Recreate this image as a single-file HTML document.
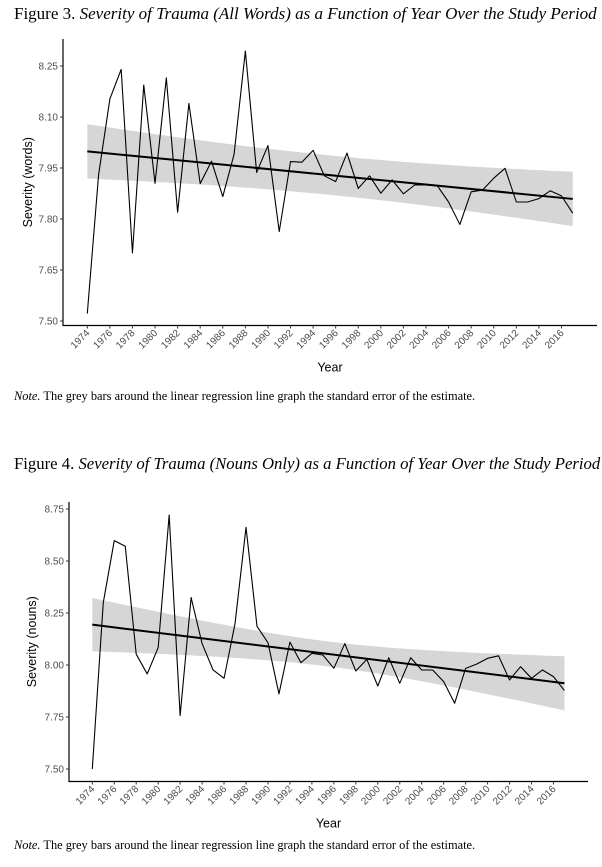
<!DOCTYPE html>
<html><head><meta charset="utf-8"><style>
body{margin:0;background:#fff;width:602px;height:867px;overflow:hidden;position:relative;font-family:"Liberation Serif",serif;}
.title{position:absolute;left:14px;font-size:17px;color:#000;white-space:nowrap;}
.note{position:absolute;left:14px;font-size:12.4px;color:#000;white-space:nowrap;}
svg{position:absolute;left:0;top:0;}
</style></head><body>
<div class="title" style="top:4px">Figure 3. <i>Severity of Trauma (All Words) as a Function of Year Over the Study Period</i></div>
<div class="note" style="top:389px"><i>Note.</i> The grey bars around the linear regression line graph the standard error of the estimate.</div>
<div class="title" style="top:454px;font-size:16.7px">Figure 4. <i>Severity of Trauma (Nouns Only) as a Function of Year Over the Study Period</i></div>
<div class="note" style="top:838px"><i>Note.</i> The grey bars around the linear regression line graph the standard error of the estimate.</div>
<svg id="chart" width="602" height="867"></svg>
<script>
const years = [];
for (let y = 1974; y <= 2017; y++) years.push(y);
const xTickYears = [1974,1976,1978,1980,1982,1984,1986,1988,1990,1992,1994,1996,1998,2000,2002,2004,2006,2008,2010,2012,2014,2016];
const wordsValues = [7.522,7.93,8.153,8.24,7.70,8.194,7.905,8.215,7.82,8.14,7.904,7.97,7.866,7.99,8.294,7.937,8.016,7.763,7.969,7.967,8.002,7.927,7.91,7.994,7.89,7.927,7.876,7.915,7.874,7.90,7.90,7.898,7.85,7.784,7.88,7.885,7.92,7.949,7.85,7.85,7.86,7.883,7.868,7.817];
const wordsTicks = [7.50,7.65,7.80,7.95,8.10,8.25];
const wordsFit = [7.999,7.859];
const wordsBand = [0.08,0.058,0.08];
const nounsValues = [7.50,8.30,8.598,8.571,8.052,7.957,8.084,8.721,7.757,8.324,8.103,7.976,7.936,8.199,8.662,8.186,8.107,7.861,8.11,8.011,8.056,8.048,7.984,8.103,7.971,8.027,7.899,8.035,7.912,8.035,7.976,7.976,7.92,7.816,7.984,8.004,8.032,8.044,7.928,7.992,7.936,7.976,7.944,7.877];
const nounsTicks = [7.50,7.75,8.00,8.25,8.50,8.75];
const nounsFit = [8.194,7.912];
const nounsBand = [0.128,0.06,0.13];

const NS = "http://www.w3.org/2000/svg";
const svg = document.getElementById('chart');
function mk(tag, attrs, parent){const e=document.createElementNS(NS,tag);for(const k in attrs)e.setAttribute(k,attrs[k]);(parent||svg).appendChild(e);return e;}

function drawChart(cfg){
  const g = mk('g',{});
  
  
  const xs = yr => cfg.x0 + (yr - 1974) * cfg.xStep;
  const ys = v => cfg.yLo + (v - cfg.vLo) / (cfg.vHi - cfg.vLo) * (cfg.yHi - cfg.yLo);
  const y0 = years[0], y1 = years[years.length-1], mid = 1995.5;
  const fit = yr => cfg.fit[0] + (cfg.fit[1]-cfg.fit[0]) * (yr - y0) / (y1 - y0);
  const hmin = cfg.band[1];
  const kL = (cfg.band[0]**2 - hmin**2) / (mid - y0)**2;
  const kR = (cfg.band[2]**2 - hmin**2) / (y1 - mid)**2;
  const half = yr => Math.sqrt(hmin*hmin + (yr<mid?kL:kR)*(yr-mid)**2);
  let up=[], lo=[];
  for (let t=0;t<=86;t++){const yr=y0+(y1-y0)*t/86;up.push(xs(yr)+','+ys(fit(yr)+half(yr)));lo.unshift(xs(yr)+','+ys(fit(yr)-half(yr)));}
  const band = mk('polygon',{points:up.concat(lo).join(' '),fill:'#d6d6d6'},g);
  
  
  const pts = cfg.values.map((v,i)=>xs(years[i])+','+ys(v)).join(' ');
  const line = mk('polyline',{points:pts,fill:'none',stroke:'#000','stroke-width':1.1,'stroke-linejoin':'round'},g);
  
  
  const reg = mk('line',{x1:xs(y0),y1:ys(cfg.fit[0]),x2:xs(y1),y2:ys(cfg.fit[1]),stroke:'#000','stroke-width':2},g);
  
  
  const ax = mk('path',{d:`M${cfg.axL},${cfg.axT} V${cfg.axB} H${cfg.axR}`,fill:'none',stroke:'#000','stroke-width':1.2},g);
  
  
  cfg.ticks.forEach(v=>{
    const y = ys(v);
    mk('line',{x1:cfg.axL-3,x2:cfg.axL,y1:y,y2:y,stroke:'#333','stroke-width':1},g);
    const t = mk('text',{x:cfg.axL-5,y:y+3.5,'text-anchor':'end','font-family':'Liberation Sans, sans-serif','font-size':10,fill:'#4d4d4d'},g);
    t.textContent = v.toFixed(2);
    
    
  });
  xTickYears.forEach(yr=>{
    const x = xs(yr);
    mk('line',{x1:x,x2:x,y1:cfg.axB,y2:cfg.axB+3,stroke:'#333','stroke-width':1},g);
    const t = mk('text',{x:x+3,y:cfg.axB+8,'text-anchor':'end','font-family':'Liberation Sans, sans-serif','font-size':10,fill:'#4d4d4d',transform:`rotate(-45 ${x+3} ${cfg.axB+8})`},g);
    t.textContent = yr;
    
    
  });
  const xl = mk('text',{x:(cfg.axL+cfg.axR)/2,y:cfg.axB+46,'text-anchor':'middle','font-family':'Liberation Sans, sans-serif','font-size':12.5,fill:'#000'},g);
  xl.textContent = 'Year';
  
  
  const cy = (cfg.axT+cfg.axB)/2;
  const yl = mk('text',{x:cfg.ylX,y:cy,'text-anchor':'middle','font-family':'Liberation Sans, sans-serif','font-size':12.5,fill:'#000',transform:`rotate(-90 ${cfg.ylX} ${cy})`},g);
  yl.textContent = cfg.yTitle;
  
  
}
drawChart({name:'figure-3-chart',values:wordsValues,ticks:wordsTicks,fit:wordsFit,band:wordsBand,
  x0:87.3,xStep:11.29,vLo:7.50,vHi:8.25,yLo:321,yHi:66,axL:63,axT:39,axB:325.5,axR:597,ylX:32,yTitle:'Severity (words)'});
drawChart({name:'figure-4-chart',values:nounsValues,ticks:nounsTicks,fit:nounsFit,band:nounsBand,
  x0:92.3,xStep:10.98,vLo:7.50,vHi:8.75,yLo:769,yHi:509,axL:69,axT:502,axB:781.5,axR:588,ylX:36,yTitle:'Severity (nouns)'});
</script>
</body></html>
